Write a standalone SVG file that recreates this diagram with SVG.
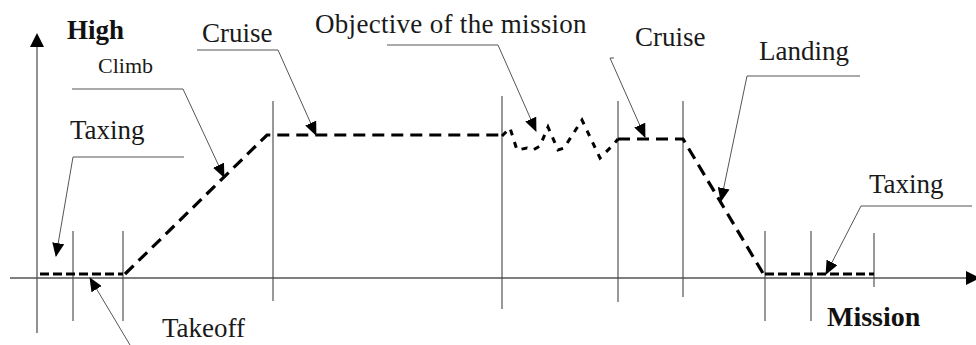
<svg xmlns="http://www.w3.org/2000/svg" width="976" height="345" viewBox="0 0 976 345">
<style>
.lbl{font-family:"Liberation Serif","Times New Roman",serif;font-size:27px;fill:#1a1a1a}
.bold{font-weight:bold;fill:#111}
.axis{stroke:#555;stroke-width:1.3;fill:none}
.tick{stroke:#444;stroke-width:1.1;fill:none}
.lead{stroke:#555;stroke-width:1;fill:none}
.path{stroke:#000;stroke-width:3.2;fill:none;stroke-dasharray:12 7}
.taxi{stroke:#000;stroke-width:3.2;fill:none;stroke-dasharray:9 4}
.wig{stroke:#000;stroke-width:3;fill:none;stroke-dasharray:6 7}
</style>
<defs>
<marker id="ah" viewBox="0 0 14 12" refX="13" refY="6" markerWidth="14" markerHeight="12" markerUnits="userSpaceOnUse" orient="auto">
<path d="M0,0 L14,6 L0,12 Z" fill="#000"/>
</marker>
</defs>
<rect width="976" height="345" fill="#fff"/>
<g id="axes">
<line class="axis" x1="10" y1="278" x2="968" y2="278"/>
<polygon points="966,271 980,278 966,285" fill="#000"/>
<line class="axis" x1="37" y1="333" x2="37" y2="46"/>
<polygon points="30,47 37,33 44,47" fill="#000"/>
</g>
<g id="ticks">
<line class="tick" x1="73" y1="231" x2="73" y2="321"/>
<line class="tick" x1="123" y1="231" x2="123" y2="321"/>
<line class="tick" x1="273" y1="101" x2="273" y2="301"/>
<line class="tick" x1="502" y1="96" x2="502" y2="309"/>
<line class="tick" x1="618" y1="101" x2="618" y2="302"/>
<line class="tick" x1="683" y1="101" x2="683" y2="297"/>
<line class="tick" x1="765" y1="231" x2="765" y2="321"/>
<line class="tick" x1="811" y1="231" x2="811" y2="321"/>
<line class="tick" x1="874" y1="233" x2="874" y2="287"/>
</g>
<g id="mission-profile">
<path class="taxi" d="M40,274 L123,274"/>
<path class="path" d="M125,274 L267,135 L502,135"/>
<path class="wig" d="M502,136 L510,128 L517,150 L527,148 L533,150 L540,146 L548,127 L558,150 L564,148 L582,120 L600,158 L612,146 L618,139"/>
<path class="path" d="M618,139 L683,139 L764,275"/>
<path class="taxi" d="M765,274 L874,274"/>
</g>
<g id="connectors">
<path class="lead" marker-end="url(#ah)" d="M184,157 L73,157 L56,256"/>
<path class="lead" marker-end="url(#ah)" d="M72,89 L183,89 L224,177"/>
<path class="lead" marker-end="url(#ah)" d="M197,50 L278,50 L316,135"/>
<path class="lead" marker-end="url(#ah)" d="M130,345 L90,278"/>
<path class="lead" marker-end="url(#ah)" d="M387,45 L498,45 L536,131"/>
<path class="lead" marker-end="url(#ah)" d="M614,58 L610,58 L645,137"/>
<path class="lead" marker-end="url(#ah)" d="M860,76 L747,76 L721,201"/>
<path class="lead" marker-end="url(#ah)" d="M972,206 L861,206 L826,274"/>
</g>
<g id="label-high"><text class="lbl bold" x="67" y="39" style="font-size:27px">High</text></g>
<g id="label-mission"><text class="lbl bold" x="827" y="326" style="font-size:28px">Mission</text></g>
<g id="label-cruise1"><text class="lbl" x="202" y="42">Cruise</text></g>
<g id="label-climb"><text class="lbl" x="98" y="73" style="font-size:22px">Climb</text></g>
<g id="label-taxing1"><text class="lbl" x="70" y="139">Taxing</text></g>
<g id="label-takeoff"><text class="lbl" x="162" y="337">Takeoff</text></g>
<g id="label-objective"><text class="lbl" x="315" y="33" letter-spacing="0.3">Objective of the mission</text></g>
<g id="label-cruise2"><text class="lbl" x="635" y="46">Cruise</text></g>
<g id="label-landing"><text class="lbl" x="759" y="60">Landing</text></g>
<g id="label-taxing2"><text class="lbl" x="869" y="193">Taxing</text></g>
</svg>
